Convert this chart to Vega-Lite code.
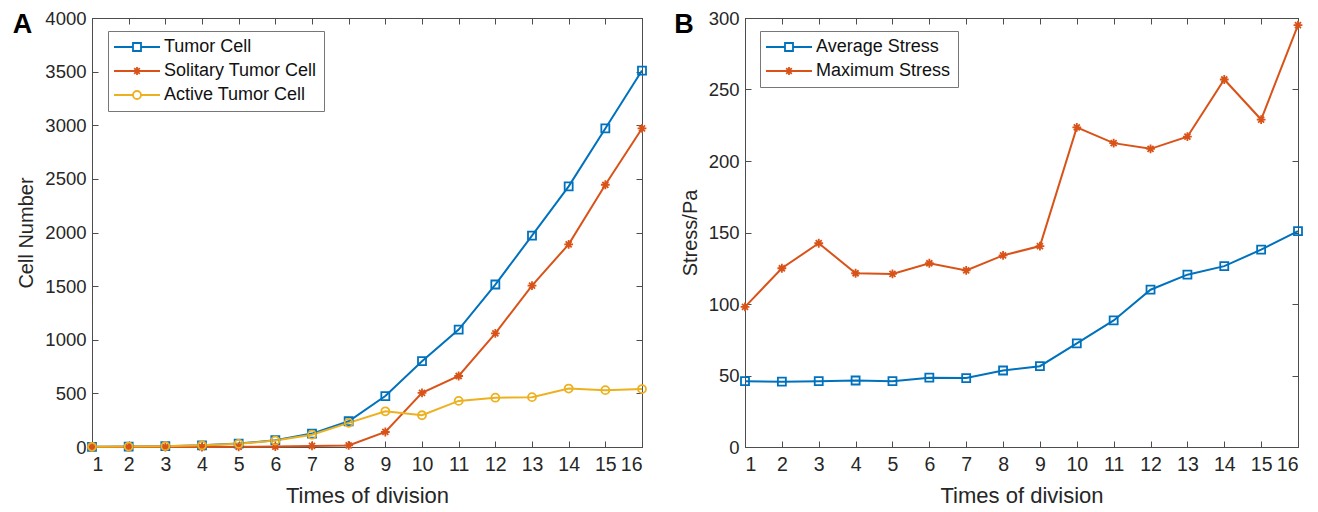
{
  "$schema": "https://vega.github.io/schema/vega-lite/v6.json",
  "background": "white",
  "padding": {"left": 12, "top": 8, "right": 10, "bottom": 0},
  "config": {
    "font": "Liberation Sans",
    "view": {"stroke": "#4d4d4d", "strokeWidth": 1},
    "axis": {
      "labelFont": "Liberation Sans", "labelColor": "#262626",
      "titleFont": "Liberation Sans", "titleFontWeight": "normal", "titleColor": "#262626",
      "domainColor": "#4d4d4d", "tickColor": "#4d4d4d", "tickSize": -6, "grid": false, "labelPadding": 12
    },
    "axisX": {"labelFontSize": 19.5, "titleFontSize": 22, "titlePadding": 12, "labelPadding": 14},
    "axisY": {"labelFontSize": 18.5, "titleFontSize": 20, "titlePadding": 8},
    "legend": {
      "labelFont": "Liberation Sans", "labelFontSize": 18, "labelColor": "#111",
      "strokeColor": "#777", "fillColor": "white", "padding": 7, "rowPadding": 6,
      "symbolStrokeWidth": 1.8, "symbolSize": 64, "labelOffset": 18, "symbolOffset": 13
    },
    "concat": {"spacing": 22}
  },
  "datasets": {
    "cells": [
      {"t": 1, "series": "Tumor Cell", "value": 2},
      {"t": 2, "series": "Tumor Cell", "value": 4},
      {"t": 3, "series": "Tumor Cell", "value": 8},
      {"t": 4, "series": "Tumor Cell", "value": 16},
      {"t": 5, "series": "Tumor Cell", "value": 32},
      {"t": 6, "series": "Tumor Cell", "value": 64},
      {"t": 7, "series": "Tumor Cell", "value": 125},
      {"t": 8, "series": "Tumor Cell", "value": 240},
      {"t": 9, "series": "Tumor Cell", "value": 475},
      {"t": 10, "series": "Tumor Cell", "value": 800},
      {"t": 11, "series": "Tumor Cell", "value": 1095},
      {"t": 12, "series": "Tumor Cell", "value": 1515},
      {"t": 13, "series": "Tumor Cell", "value": 1970},
      {"t": 14, "series": "Tumor Cell", "value": 2430},
      {"t": 15, "series": "Tumor Cell", "value": 2970},
      {"t": 16, "series": "Tumor Cell", "value": 3510},
      {"t": 1, "series": "Solitary Tumor Cell", "value": 0},
      {"t": 2, "series": "Solitary Tumor Cell", "value": 0},
      {"t": 3, "series": "Solitary Tumor Cell", "value": 0},
      {"t": 4, "series": "Solitary Tumor Cell", "value": 0},
      {"t": 5, "series": "Solitary Tumor Cell", "value": 2},
      {"t": 6, "series": "Solitary Tumor Cell", "value": 4},
      {"t": 7, "series": "Solitary Tumor Cell", "value": 10},
      {"t": 8, "series": "Solitary Tumor Cell", "value": 15},
      {"t": 9, "series": "Solitary Tumor Cell", "value": 140},
      {"t": 10, "series": "Solitary Tumor Cell", "value": 505},
      {"t": 11, "series": "Solitary Tumor Cell", "value": 662},
      {"t": 12, "series": "Solitary Tumor Cell", "value": 1060},
      {"t": 13, "series": "Solitary Tumor Cell", "value": 1505},
      {"t": 14, "series": "Solitary Tumor Cell", "value": 1890},
      {"t": 15, "series": "Solitary Tumor Cell", "value": 2445},
      {"t": 16, "series": "Solitary Tumor Cell", "value": 2970},
      {"t": 1, "series": "Active Tumor Cell", "value": 2},
      {"t": 2, "series": "Active Tumor Cell", "value": 4},
      {"t": 3, "series": "Active Tumor Cell", "value": 8},
      {"t": 4, "series": "Active Tumor Cell", "value": 16},
      {"t": 5, "series": "Active Tumor Cell", "value": 30},
      {"t": 6, "series": "Active Tumor Cell", "value": 60},
      {"t": 7, "series": "Active Tumor Cell", "value": 115},
      {"t": 8, "series": "Active Tumor Cell", "value": 225},
      {"t": 9, "series": "Active Tumor Cell", "value": 333},
      {"t": 10, "series": "Active Tumor Cell", "value": 296},
      {"t": 11, "series": "Active Tumor Cell", "value": 430},
      {"t": 12, "series": "Active Tumor Cell", "value": 460},
      {"t": 13, "series": "Active Tumor Cell", "value": 465},
      {"t": 14, "series": "Active Tumor Cell", "value": 545},
      {"t": 15, "series": "Active Tumor Cell", "value": 530},
      {"t": 16, "series": "Active Tumor Cell", "value": 540}
    ],
    "stress": [
      {"t": 1, "series": "Average Stress", "value": 46},
      {"t": 2, "series": "Average Stress", "value": 45.7},
      {"t": 3, "series": "Average Stress", "value": 46},
      {"t": 4, "series": "Average Stress", "value": 46.5},
      {"t": 5, "series": "Average Stress", "value": 46},
      {"t": 6, "series": "Average Stress", "value": 48.5},
      {"t": 7, "series": "Average Stress", "value": 48.2},
      {"t": 8, "series": "Average Stress", "value": 53.5},
      {"t": 9, "series": "Average Stress", "value": 56.5},
      {"t": 10, "series": "Average Stress", "value": 72.5},
      {"t": 11, "series": "Average Stress", "value": 88.5},
      {"t": 12, "series": "Average Stress", "value": 110},
      {"t": 13, "series": "Average Stress", "value": 120.5},
      {"t": 14, "series": "Average Stress", "value": 126.5},
      {"t": 15, "series": "Average Stress", "value": 138},
      {"t": 16, "series": "Average Stress", "value": 151},
      {"t": 1, "series": "Maximum Stress", "value": 98},
      {"t": 2, "series": "Maximum Stress", "value": 125},
      {"t": 3, "series": "Maximum Stress", "value": 142.5},
      {"t": 4, "series": "Maximum Stress", "value": 121.5},
      {"t": 5, "series": "Maximum Stress", "value": 121},
      {"t": 6, "series": "Maximum Stress", "value": 128.5},
      {"t": 7, "series": "Maximum Stress", "value": 123.5},
      {"t": 8, "series": "Maximum Stress", "value": 134},
      {"t": 9, "series": "Maximum Stress", "value": 140.5},
      {"t": 10, "series": "Maximum Stress", "value": 223.5},
      {"t": 11, "series": "Maximum Stress", "value": 212.5},
      {"t": 12, "series": "Maximum Stress", "value": 208.5},
      {"t": 13, "series": "Maximum Stress", "value": 217},
      {"t": 14, "series": "Maximum Stress", "value": 257},
      {"t": 15, "series": "Maximum Stress", "value": 229},
      {"t": 16, "series": "Maximum Stress", "value": 295}
    ]
  },
  "resolve": {"scale": {"color": "independent", "shape": "independent"}, "legend": {"color": "independent", "shape": "independent"}},
  "hconcat": [
    {
      "width": 550, "height": 429,
      "title": {"text": "A", "anchor": "start", "frame": "bounds", "fontSize": 27, "fontWeight": "bold", "font": "Liberation Sans", "color": "black", "dy": 30, "dx": -4, "offset": 0},
      "data": {"name": "cells"},
      "resolve": {"axis": {"x": "independent", "y": "independent"}},
      "layer": [
        {
          "mark": {"type": "line", "strokeWidth": 2},
          "encoding": {
            "x": {"field": "t", "type": "quantitative", "scale": {"domain": [1, 16], "nice": false, "zero": false}, "axis": {"values": [1,2,3,4,5,6,7,8,9,10,11,12,13,14,15,16], "title": "Times of division"}},
            "y": {"field": "value", "type": "quantitative", "scale": {"domain": [0, 4000], "nice": false}, "axis": {"values": [0,500,1000,1500,2000,2500,3000,3500,4000], "format": "d", "title": "Cell Number"}},
            "color": {"field": "series", "type": "nominal", "scale": {"domain": ["Tumor Cell", "Solitary Tumor Cell", "Active Tumor Cell"], "range": ["#0072BD", "#D95319", "#EDB120"]},
              "legend": {"title": null, "orient": "none", "legendX": 16, "legendY": 13,
                "symbolType": "M-5.75,0H5.75",
                "encode": {"symbols": {"update": {"fill": {"value": "transparent"}, "shape": {"signal": "datum.value === 'Tumor Cell' ? 'M-5.75,0H-1M1,0H5.75M-1,-1H1V1H-1Z' : datum.value === 'Solitary Tumor Cell' ? 'M-5.75,0H5.75M0,-1V1M-0.7,-0.7L0.7,0.7M-0.7,0.7L0.7,-0.7' : 'M-5.75,0H-1M1,0H5.75M-1,0A1,1,0,1,0,1,0A1,1,0,1,0,-1,0Z'"}}}}}}
          }
        },
        {
          "mark": {"type": "point", "filled": false, "strokeWidth": 1.8, "size": 64, "opacity": 1},
          "encoding": {
            "x": {"field": "t", "type": "quantitative", "scale": {"domain": [1, 16], "nice": false, "zero": false}, "axis": {"orient": "top", "values": [1,2,3,4,5,6,7,8,9,10,11,12,13,14,15,16], "labels": false, "title": null}},
            "y": {"field": "value", "type": "quantitative", "scale": {"domain": [0, 4000], "nice": false}, "axis": {"orient": "right", "values": [0,500,1000,1500,2000,2500,3000,3500,4000], "labels": false, "title": null}},
            "color": {"field": "series", "type": "nominal", "scale": {"domain": ["Tumor Cell", "Solitary Tumor Cell", "Active Tumor Cell"], "range": ["#0072BD", "#D95319", "#EDB120"]}},
            "shape": {"field": "series", "type": "nominal", "scale": {"domain": ["Active Tumor Cell", "Solitary Tumor Cell", "Tumor Cell"], "range": ["circle", "M0,-1.1V1.1M-1.1,0H1.1M-0.75,-0.75L0.75,0.75M-0.75,0.75L0.75,-0.75", "square"]}, "legend": null}
          }
        }
      ]
    },
    {
      "width": 553, "height": 429,
      "title": {"text": "B", "anchor": "start", "frame": "bounds", "fontSize": 27, "fontWeight": "bold", "font": "Liberation Sans", "color": "black", "dy": 30, "dx": -6, "offset": 0},
      "data": {"name": "stress"},
      "resolve": {"axis": {"x": "independent", "y": "independent"}},
      "layer": [
        {
          "mark": {"type": "line", "strokeWidth": 2},
          "encoding": {
            "x": {"field": "t", "type": "quantitative", "scale": {"domain": [1, 16], "nice": false, "zero": false}, "axis": {"values": [1,2,3,4,5,6,7,8,9,10,11,12,13,14,15,16], "title": "Times of division"}},
            "y": {"field": "value", "type": "quantitative", "scale": {"domain": [0, 300], "nice": false}, "axis": {"values": [0,50,100,150,200,250,300], "title": "Stress/Pa"}},
            "color": {"field": "series", "type": "nominal", "scale": {"domain": ["Average Stress", "Maximum Stress"], "range": ["#0072BD", "#D95319"]},
              "legend": {"title": null, "orient": "none", "legendX": 15, "legendY": 13,
                "symbolType": "M-5.75,0H5.75",
                "encode": {"symbols": {"update": {"fill": {"value": "transparent"}, "shape": {"signal": "datum.value === 'Average Stress' ? 'M-5.75,0H-1M1,0H5.75M-1,-1H1V1H-1Z' : 'M-5.75,0H5.75M0,-1V1M-0.7,-0.7L0.7,0.7M-0.7,0.7L0.7,-0.7'"}}}}}}
          }
        },
        {
          "mark": {"type": "point", "filled": false, "strokeWidth": 1.8, "size": 64, "opacity": 1},
          "encoding": {
            "x": {"field": "t", "type": "quantitative", "scale": {"domain": [1, 16], "nice": false, "zero": false}, "axis": {"orient": "top", "values": [1,2,3,4,5,6,7,8,9,10,11,12,13,14,15,16], "labels": false, "title": null}},
            "y": {"field": "value", "type": "quantitative", "scale": {"domain": [0, 300], "nice": false}, "axis": {"orient": "right", "values": [0,50,100,150,200,250,300], "labels": false, "title": null}},
            "color": {"field": "series", "type": "nominal", "scale": {"domain": ["Average Stress", "Maximum Stress"], "range": ["#0072BD", "#D95319"]}},
            "shape": {"field": "series", "type": "nominal", "scale": {"domain": ["Maximum Stress", "Average Stress"], "range": ["M0,-1.1V1.1M-1.1,0H1.1M-0.75,-0.75L0.75,0.75M-0.75,0.75L0.75,-0.75", "square"]}, "legend": null}
          }
        }
      ]
    }
  ]
}
